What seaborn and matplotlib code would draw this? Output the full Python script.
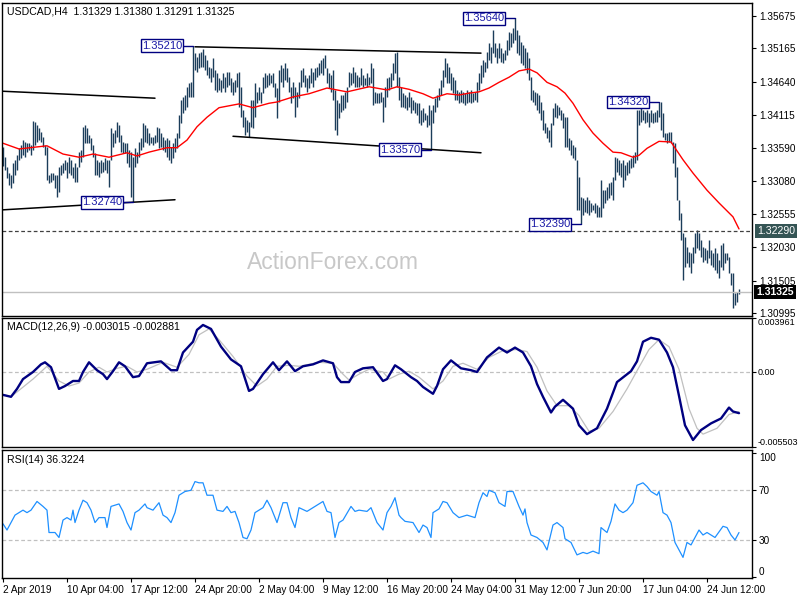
"""
USDCAD H4 chart with MA, MACD and RSI panels
"""
import numpy as np
import pandas as pd
import matplotlib
matplotlib.use('Agg')
import matplotlib.pyplot as plt
import matplotlib.transforms as mtransforms
import seaborn as sns

sns.set_style('white')
plt.rcParams['font.family'] = ['Liberation Sans', 'DejaVu Sans']
plt.rcParams.update({'axes.edgecolor': 'black', 'xtick.color': 'black',
                     'ytick.color': 'black', 'text.color': 'black',
                     'axes.labelcolor': 'black', 'font.size': 8})

# ---- data ----
# H4 bars (one per index), values in pips above 1.3000
bar_high = [361, 345, 330, 320, 317, 336, 341, 348, 359, 364, 372, 369, 367, 367, 364, 402, 400, 396, 391, 385,
            377, 364, 361, 317, 320, 320, 317, 317, 330, 333, 336, 341, 338, 345, 341, 330, 336, 330, 353, 356,
            393, 396, 391, 380, 375, 364, 352,
            341, 338, 341, 338, 344, 341, 341, 391, 383, 388, 400, 396, 380, 369, 367, 367, 356, 353, 345, 359,
            353, 369, 375, 399, 396, 391, 383, 377, 377, 380, 393, 391, 383, 377, 372, 375, 372, 361, 367, 375,
            383, 411, 435, 440, 443, 456, 462,
            463, 521, 509, 503, 509, 511, 516, 506, 498, 487, 485, 501, 482, 478, 470, 467, 478, 471, 479, 479,
            470, 463, 467, 478, 479, 456, 419, 408, 404, 400, 435, 435, 462, 448, 456, 448, 471, 478, 475, 478,
            475, 478, 462, 454, 482, 490, 485,
            493, 485, 471, 456, 463, 456, 448, 463, 482, 485, 475, 470, 475, 485, 479, 485, 487, 493, 498, 501,
            506, 485, 478, 475, 482, 451, 435, 430, 443, 443, 448, 456, 479, 478, 487, 479, 475, 471, 485, 475,
            470, 478, 471, 493, 485, 448, 446,
            446, 448, 440, 456, 470, 471, 478, 493, 509, 511, 471, 456, 446, 443, 440, 448, 440, 435, 432, 430,
            430, 419, 422, 415, 411, 427, 419, 427, 438, 443, 454, 467, 482, 501, 493, 487, 478, 471, 467, 451,
            448, 451, 448, 446, 451, 448, 451,
            446, 448, 463, 478, 490, 498, 495, 511, 525, 519, 545, 525, 517, 525, 517, 509, 514, 530, 542, 540,
            548, 564, 545, 538, 527, 522, 517, 511, 501, 471, 451, 448, 446, 443, 432, 419, 399, 393, 388, 399,
            422, 430, 427, 424, 419, 415, 408,
            408, 375, 372, 364, 361, 341, 314, 282, 280, 278, 282, 278, 273, 270, 273, 270, 266, 309, 293, 293,
            298, 304, 306, 314, 345, 344, 341, 336, 341, 333, 338, 341, 344, 348, 353, 419, 419, 422, 419, 416,
            419, 415, 419, 415, 416, 419, 432,
            432, 415, 383, 383, 385, 385, 369, 367, 330, 278, 257, 226, 219, 203, 195, 194, 203, 226, 230, 226,
            215, 203, 202, 199, 215, 199, 194, 202, 194, 183, 207, 210, 194, 194, 188, 162, 162, 131, 133, 138]
bar_low = [331, 325, 312, 301, 296, 304, 317, 325, 341, 344, 348, 345, 353, 356, 348, 356, 364, 369, 372, 369,
           361, 348, 309, 304, 306, 309, 296, 282, 290, 317, 320, 325, 312, 320, 317, 312, 306, 306, 330, 338,
           345, 367, 367, 367, 356, 345, 317,
           317, 314, 320, 322, 325, 320, 298, 341, 361, 367, 377, 369, 353, 352, 352, 336, 330, 282, 274, 330,
           336, 345, 356, 361, 369, 367, 364, 367, 364, 367, 369, 359, 361, 356, 353, 345, 341, 336, 344, 353,
           359, 375, 399, 415, 419, 424, 440,
           440, 440, 482, 479, 485, 487, 487, 482, 475, 470, 463, 471, 451, 448, 451, 448, 454, 448, 456, 459,
           448, 443, 448, 456, 424, 408, 393, 380, 385, 377, 393, 391, 408, 430, 435, 430, 446, 454, 456, 459,
           462, 456, 440, 407, 432, 463, 456,
           467, 463, 448, 430, 438, 408, 424, 438, 456, 463, 456, 448, 454, 462, 456, 467, 471, 475, 478, 475,
           485, 462, 454, 448, 435, 388, 380, 407, 416, 419, 422, 432, 456, 459, 462, 456, 456, 456, 459, 456,
           459, 456, 459, 462, 427, 430, 430,
           430, 432, 400, 424, 440, 451, 456, 467, 478, 456, 435, 424, 424, 422, 419, 424, 415, 419, 415, 411,
           399, 396, 400, 404, 393, 396, 357, 399, 416, 424, 435, 443, 456, 471, 462, 462, 451, 446, 435, 435,
           430, 432, 430, 427, 430, 432, 430,
           432, 435, 432, 451, 462, 471, 479, 485, 498, 493, 509, 503, 493, 501, 495, 493, 498, 506, 514, 519,
           525, 530, 509, 506, 493, 490, 485, 478, 467, 435, 432, 427, 419, 415, 404, 388, 383, 375, 369, 361,
           396, 408, 407, 411, 404, 391, 361,
           361, 356, 348, 344, 341, 262, 262, 239, 254, 259, 257, 254, 259, 262, 257, 251, 251, 251, 265, 273,
           278, 280, 285, 278, 309, 322, 317, 314, 298, 309, 317, 320, 328, 330, 336, 341, 396, 400, 404, 399,
           400, 393, 400, 399, 400, 400, 408,
           388, 377, 372, 367, 369, 367, 336, 314, 278, 246, 215, 152, 172, 178, 172, 162, 178, 194, 202, 199,
           188, 180, 183, 178, 186, 175, 172, 167, 162, 155, 172, 167, 178, 183, 162, 144, 107, 112, 117, 129]

# red moving average, pips above 1.3000
ma_bar = [0, 8, 22, 30, 38, 45, 53, 62, 67, 73, 82, 87, 92, 97, 102, 108, 118, 125, 133, 137, 145, 153, 162,
          172, 183, 192, 197, 203, 210, 215, 222, 228, 233, 238, 243, 248, 253, 258, 263, 267, 272, 277, 281,
          285, 290, 295, 300, 305, 309, 315, 318, 322, 328, 334, 340, 345, 352, 358, 365, 368]
ma_pips = [367, 358, 363, 350, 345, 350, 345, 352, 347, 353, 360, 360, 372, 393, 408, 423, 429, 423, 430, 432,
           440, 445, 454, 448, 456, 451, 456, 452, 445, 438, 445, 443, 446, 448, 454, 463, 471, 481, 484, 478,
           463, 456, 446, 430, 404, 383, 367, 353, 352, 345, 348, 359, 370, 369, 341, 320, 293, 273, 251, 232]

# MACD(12,26,9), values in units of 1e-4
macd_bar = [0, 4, 7, 10, 15, 19, 21, 24, 28, 31, 35, 38, 40, 43, 47, 50, 52, 55, 58, 61, 65, 68, 72, 79, 84,
            87, 90, 95, 97, 100, 104, 109, 114, 119, 123, 125, 130, 135, 138, 142, 146, 150, 155, 160, 165, 167,
            169, 173, 176, 180, 185, 190, 192, 196, 199, 204, 207, 210, 215, 217, 220, 224, 229, 234, 237, 242,
            248, 252, 256, 260, 264, 267, 270, 274, 276, 280, 285, 288, 292, 297, 302, 307, 314, 317, 320, 324,
            328, 332, 335, 338, 341, 345, 349, 354, 359, 363, 365, 368]
macd_main = [-16.8, -18.2, -12.4, -5.2, 0, 5.6, 7.1, 3.5, -12.4, -10.3, -6.6, -6.6, 0, 7.1, 1.3, -1.6, -5.2, 0.6,
             7.1, 4.2, -3.8, -3.0, 6.4, 7.8, 1.3, 1.3, 14.3, 22.2, 30.9, 34.5, 31.6, 18.6, 9.2, 4.2, -13.9,
             -12.4, -1.6, 7.1, 1.3, 7.8, 0.6, 4.2, 5.6, 8.5, 6.4, -3.8, -7.4, -7.4, 0, 2.7, 3.5, -6.6, -5.2,
             4.9, 2.0, -3.8, -6.6, -11.0, -16.0, -10.3, 2.0, 8.5, 2.7, 1.3, 0, 10.7, 17.9, 14.3, 17.9, 14.3,
             4.2, -8.8, -18.2, -29.7, -25.4, -20.4, -26.9, -39.1, -45.6, -41.3, -26.9, -7.4, 0.6, 7.8, 22.2,
             25.1, 23.7, 14.3, 3.5, -17.5, -39.1, -49.9, -42.6, -37.7, -34.1, -26.1, -29.0, -30.2]
signal_bar = [0, 4, 15, 22, 28, 33, 38, 43, 48, 52, 57, 62, 67, 72, 80, 87, 93, 98, 103, 108, 115, 122, 127,
              132, 137, 143, 148, 158, 165, 170, 173, 178, 183, 190, 193, 198, 203, 208, 215, 220, 225, 230, 237,
              243, 250, 257, 262, 267, 272, 277, 283, 288, 293, 298, 305, 312, 318, 323, 328, 333, 338, 343, 347,
              350, 357, 363, 368]
macd_signal = [-16.5, -18.2, -5.2, 4.2, -6.6, -10.3, -8.1, 0, 3.5, 0, 2.7, 4.2, 0, 2.0, 7.1, 3.5, 12.9, 27.3,
               31.6, 23.7, 11.4, -3.0, -10.3, -5.2, 4.2, 4.9, 4.2, 7.1, 6.4, -1.6, -5.9, -1.6, 2.0, 0, -5.2,
               -1.6, 0.6, -3.8, -12.4, -6.6, 4.2, 6.4, 2.0, 10.7, 15.7, 16.5, 15.0, 3.5, -13.9, -24.7, -24.7,
               -31.9, -43.5, -41.3, -29.0, -12.4, 3.5, 16.5, 23.7, 18.6, 2.0, -26.9, -41.3, -45.6, -41.3, -31.2,
               -29.0]

# RSI(14)
rsi_bar = [0, 2, 6, 10, 12, 14, 17, 20, 22, 23, 26, 28, 30, 32, 34, 35, 36, 38, 40, 42, 44, 46, 48, 51, 52, 54,
           56, 58, 60, 62, 64, 66, 68, 71, 72, 75, 78, 80, 82, 84, 86, 88, 91, 94, 96, 98, 100, 102, 105, 107,
           110, 112, 114, 116, 118, 120, 122, 124, 126, 130, 132, 134, 137, 140, 142, 144, 146, 148, 152, 156,
           160, 162, 164, 166, 168, 170, 174, 176, 178, 182, 184, 187, 190, 192, 194, 196, 198, 199, 201, 205,
           208, 210, 212, 214, 215, 218, 220, 222, 225, 228, 232, 236, 238, 240, 242, 243, 246, 248, 251, 252,
           255, 258, 260, 261, 262, 264, 267, 270, 272, 275, 277, 280, 281, 284, 287, 290, 292, 295, 298, 299,
           302, 304, 306, 308, 310, 312, 315, 317, 320, 322, 324, 327, 328, 330, 332, 334, 336, 338, 340, 342,
           344, 348, 350, 352, 356, 360, 362, 364, 366, 368]
rsi_val = [43, 38, 50, 54, 52, 54, 61, 57, 54, 36, 36, 32, 46, 48, 46, 54, 44, 54, 62, 60, 54, 44, 48, 48, 40,
           57, 58, 59, 53, 44, 38, 52, 54, 59, 56, 54, 60, 50, 48, 44, 52, 66, 69, 70, 77, 76, 76, 66, 66, 54,
           53, 57, 52, 53, 44, 32, 31, 38, 52, 56, 62, 56, 44, 60, 60, 48, 40, 56, 53, 57, 61, 53, 52, 32, 44,
           46, 57, 53, 54, 53, 56, 44, 38, 52, 57, 64, 50, 48, 45, 44, 36, 42, 40, 32, 52, 55, 61, 60, 52, 48,
           50, 48, 60, 68, 65, 70, 68, 60, 57, 69, 69, 57, 50, 55, 44, 34, 32, 28, 22, 42, 44, 40, 31, 28, 18,
           20, 19, 21, 19, 40, 36, 45, 59, 54, 52, 54, 60, 74, 76, 73, 69, 66, 69, 52, 50, 44, 28, 22, 16, 28,
           26, 38, 34, 36, 32, 41, 40, 34, 30, 36]

# drawn trendlines (bar index, price)
trend_start_bar = [-0.5, -0.5, 96, 115]
trend_start = [1.3449, 1.3262, 1.3519, 1.3378]
trend_end_bar = [76, 86, 239, 239]
trend_end = [1.3438, 1.3278, 1.3509, 1.3352]

# swing high / low labels
swing_bar = [95, 65, 256, 214, 289, 328]
swing_price = [1.35210, 1.32740, 1.35640, 1.33570, 1.32390, 1.34320]

level_dash = 1.32290
level_last = 1.31325

price_ticks = ['1.35675', '1.35165', '1.34640', '1.34115', '1.33590',
               '1.33080', '1.32555', '1.32030', '1.31505', '1.30995']
date_bar = [0, 32, 64, 96, 128, 160, 192, 224, 256, 288, 320, 352]
date_labels = ['2 Apr 2019', '10 Apr 04:00', '17 Apr 12:00', '24 Apr 20:00', '2 May 04:00', '9 May 12:00',
               '16 May 20:00', '24 May 04:00', '31 May 12:00', '7 Jun 20:00', '17 Jun 04:00', '24 Jun 12:00']

# ---- derived frames ----
bars = pd.DataFrame({'bar': np.arange(len(bar_high)),
                     'high': 1.3 + np.array(bar_high) / 1e4,
                     'low': 1.3 + np.array(bar_low) / 1e4})
ma_df = pd.DataFrame({'bar': ma_bar, 'ma': 1.3 + np.array(ma_pips) / 1e4})
macd_df = pd.DataFrame({'bar': macd_bar, 'macd': np.array(macd_main) * 1e-4})
sig_df = pd.DataFrame({'bar': signal_bar, 'signal': np.array(macd_signal) * 1e-4})
rsi_df = pd.DataFrame({'bar': rsi_bar, 'rsi': rsi_val})

# ---- layout (pixel boxes on an 800x600 canvas) ----
W, H = 800, 600
fig = plt.figure(figsize=(8, 6), dpi=100)
fig.patch.set_facecolor('white')


def px_box(x0, y0, x1, y1):
    return [x0 / W, 1 - y1 / H, (x1 - x0) / W, (y1 - y0) / H]


ax_p = fig.add_axes(px_box(2, 3, 752, 316))
ax_m = fig.add_axes(px_box(2, 318, 752, 447))
ax_r = fig.add_axes(px_box(2, 450, 752, 578))

XLIM = (-0.5, 374.5)
BAR_COLOR = '#1b3d5a'
NAVY = '#000080'
TICK_FS = 7.2

# ---- price panel ----
ax_p.vlines(bars['bar'], bars['low'], bars['high'], color=BAR_COLOR, lw=1.0)
sns.lineplot(data=ma_df, x='bar', y='ma', color='red', lw=1.0, ax=ax_p)

for x0, y0, x1, y1 in zip(trend_start_bar, trend_start, trend_end_bar, trend_end):
    ax_p.plot([x0, x1], [y0, y1], color='black', lw=1.1)

ax_p.axhline(level_dash, color='#404040', lw=0.9, ls=(0, (3, 2)))
ax_p.axhline(level_last, color='#c0c0c0', lw=1.0)

for b, p in zip(swing_bar, swing_price):
    ax_p.plot([b - 5.3, b], [p, p], color=NAVY, lw=1.0)
    ax_p.text(b - 15.5, p, f'{p:.5f}', ha='center', va='center', fontsize=8, color='#1a1aa6',
              bbox=dict(boxstyle='square,pad=0.12', fc='white', ec=NAVY, lw=1.0))

ax_p.set_xlim(*XLIM)
ax_p.set_ylim(1.30948, 1.35880)
ax_p.set_xticks([])
ax_p.yaxis.tick_right()
ax_p.set_yticks([float(t) for t in price_ticks])
ax_p.set_yticklabels(price_ticks)

right_tr = mtransforms.blended_transform_factory(ax_p.transAxes, ax_p.transData)
ax_p.text(1.0067, level_dash, f'{level_dash:.5f}', transform=right_tr, ha='left', va='center',
          fontsize=7.6, color='white', bbox=dict(boxstyle='square,pad=0.2', fc='#355555', ec='none'))
ax_p.text(1.0055, level_last, f'{level_last:.5f}', transform=right_tr, ha='left', va='center',
          fontsize=7.6, color='white', fontweight='bold',
          bbox=dict(boxstyle='square,pad=0.2', fc='black', ec='none'))

ax_p.text(331 / 750, (316 - 263) / 313, 'ActionForex.com', transform=ax_p.transAxes,
          ha='center', va='center', fontsize=16.5, color='#c8c8c8')

# ---- MACD panel ----
ax_m.axhline(0, color='#c0c0c0', lw=0.9, ls=(0, (3, 2)))
sns.lineplot(data=sig_df, x='bar', y='signal', color='#c0c0c0', lw=0.9, ax=ax_m)
sns.lineplot(data=macd_df, x='bar', y='macd', color=NAVY, lw=1.7, ax=ax_m)
ax_m.set_xlim(*XLIM)
ax_m.set_ylim(-0.005503, 0.003961)
ax_m.set_xticks([])
ax_m.yaxis.tick_right()
ax_m.set_yticks([0.003961, 0.0, -0.005503])
ax_m.set_yticklabels(['0.003961', '0.00', '-0.005503'])

# ---- RSI panel ----
for lvl in [30, 70]:
    ax_r.axhline(lvl, color='#c0c0c0', lw=0.9, ls=(0, (3, 2)))
sns.lineplot(data=rsi_df, x='bar', y='rsi', color='#1e90ff', lw=0.9, ax=ax_r)
ax_r.set_xlim(*XLIM)
ax_r.set_ylim(-0.6, 102.4)
ax_r.yaxis.tick_right()
ax_r.set_yticks([100, 70, 30, 0])
ax_r.set_yticklabels(['100', '70', '30', '0'])
ax_r.set_xticks(date_bar)
ax_r.set_xticklabels(date_labels, ha='left')
ax_r.tick_params(axis='x', bottom=True, direction='out', length=3, width=0.8, pad=2, labelsize=TICK_FS)

for ax in (ax_p, ax_m, ax_r):
    ax.set_xlabel('')
    ax.set_ylabel('')
    ax.set_facecolor('white')
    ax.tick_params(axis='y', right=True, left=False, direction='out', length=3, width=0.8,
                   pad=2, labelsize=TICK_FS)
    for sp in ax.spines.values():
        sp.set_visible(True)
        sp.set_color('black')
        sp.set_linewidth(1.0)

# MACD labels are long: tighter pad and slightly smaller text
ax_m.tick_params(axis='y', pad=1, labelsize=6.5)

# first/last labels of the indicator panels sit inside the panel edges
m_labels = ax_m.get_yticklabels()
m_labels[0].set_va('top')
m_labels[2].set_va('bottom')
r_labels = ax_r.get_yticklabels()
r_labels[0].set_va('top')
r_labels[3].set_va('bottom')

# ---- panel headers ----
fig.text(7 / W, 1 - 11 / H, 'USDCAD,H4  1.31329 1.31380 1.31291 1.31325', ha='left', va='center', fontsize=7.6)
fig.text(7 / W, 1 - 327 / H, 'MACD(12,26,9) -0.003015 -0.002881', ha='left', va='center', fontsize=7.6)
fig.text(7 / W, 1 - 460 / H, 'RSI(14) 36.3224', ha='left', va='center', fontsize=7.6)

fig.savefig('out.png', dpi=100)
